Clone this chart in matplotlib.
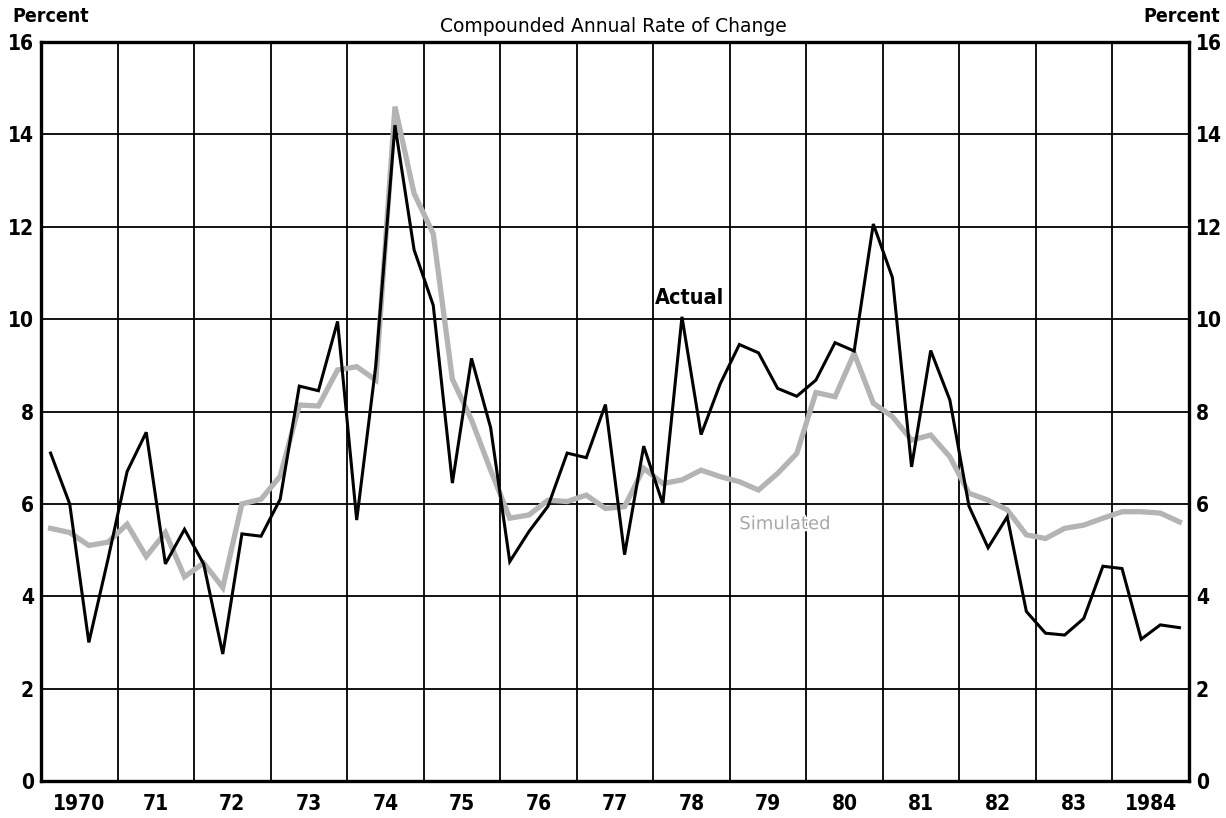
import matplotlib
matplotlib.use("Agg")
import matplotlib.pyplot as plt
import matplotlib.patheffects as pe
import numpy as np

# quarterly rates, 1970Q1 .. 1984Q4
actual = [
    7.1, 6.0, 3.0, 4.8,      # 1970
    6.7, 7.55, 4.7, 5.45,    # 1971
    4.7, 2.75, 5.35, 5.3,    # 1972
    6.1, 8.55, 8.45, 9.95,   # 1973
    5.65, 9.0, 14.2, 11.5,   # 1974
    10.3, 6.45, 9.15, 7.65,  # 1975
    4.75, 5.4, 5.95, 7.1,    # 1976
    7.0, 8.15, 4.9, 7.25,    # 1977
    6.0, 10.05, 7.5, 8.6,    # 1978
    9.45, 9.27, 8.5, 8.33,   # 1979
    8.68, 9.49, 9.31, 12.06, # 1980
    10.9, 6.8, 9.32, 8.25,   # 1981
    5.95, 5.05, 5.72, 3.67,  # 1982
    3.2, 3.16, 3.52, 4.65,   # 1983
    4.6, 3.07, 3.38, 3.32,   # 1984
]
simulated = [
    5.47, 5.38, 5.1, 5.17,
    5.56, 4.86, 5.38, 4.42,
    4.72, 4.19, 6.0, 6.1,
    6.6, 8.14, 8.12, 8.9,
    8.97, 8.68, 14.6, 12.72,
    11.85, 8.7, 7.82, 6.73,
    5.69, 5.76, 6.08, 6.05,
    6.19, 5.9, 5.94, 6.77,
    6.44, 6.52, 6.73, 6.59,
    6.48, 6.3, 6.66, 7.09,
    8.41, 8.32, 9.26, 8.18,
    7.89, 7.38, 7.49, 7.02,
    6.23, 6.08, 5.87, 5.33,
    5.25, 5.47, 5.54, 5.69,
    5.83, 5.83, 5.8, 5.61,
]
year_labels = ["1970", "71", "72", "73", "74", "75", "76", "77",
               "78", "79", "80", "81", "82", "83", "1984"]
y_ticks = [0, 2, 4, 6, 8, 10, 12, 14, 16]

# narrow heavy lettering for the scale numbers and labels
BOLD = dict(fontfamily="DejaVu Sans", fontweight="bold", fontstretch="condensed")

# each quarter sits in the middle of its quarter-year slot
x = 1970 + (np.arange(len(actual)) + 0.5) / 4

fig = plt.figure(figsize=(12.26, 8.18), dpi=100, facecolor="white")
ax = fig.add_axes([41 / 1226, 37 / 818, 1148 / 1226, 739 / 818])

ax.plot(x, simulated, color="#b4b4b4", lw=3.8, solid_joinstyle="miter", zorder=3)
ax.plot(x, actual, color="black", lw=2.2, solid_joinstyle="miter", zorder=4)

ax.set_xlim(1970, 1985)
ax.set_ylim(0, 16)

# year boundaries carry the grid, year centres carry the labels
ax.set_xticks(np.arange(1971, 1985))
ax.set_xticklabels([])
ax.set_xticks(np.arange(1970, 1985) + 0.5, minor=True)
ax.set_xticklabels(year_labels, minor=True, fontsize=15, **BOLD)
ax.tick_params(axis="x", which="both", length=0, pad=9)

ax.set_yticks(y_ticks)
ax.set_yticklabels([str(v) for v in y_ticks], fontsize=15, **BOLD)
ax.tick_params(axis="y", length=0, pad=5, labelright=True)

ax.grid(True, which="major", color="black", lw=1.3, zorder=1)
for s in ax.spines.values():
    s.set_linewidth(2.4)

ax.text(1978.48, 10.46, "Actual", fontsize=15.5, ha="center", va="center",
        zorder=5, **BOLD)
ax.text(1979.72, 5.56, "Simulated", fontsize=13, color="#a9a9a9",
        ha="center", va="center", zorder=5,
        path_effects=[pe.withStroke(linewidth=3, foreground="white")])

fig.text(0.5, 1 - 27 / 818, "Compounded Annual Rate of Change",
         fontsize=13.5, ha="center", va="center")
fig.text(12 / 1226, 1 - 17 / 818, "Percent", fontsize=14,
         ha="left", va="center", **BOLD)
fig.text(1220 / 1226, 1 - 17 / 818, "Percent", fontsize=14,
         ha="right", va="center", **BOLD)

fig.savefig("out.png", dpi=100, facecolor="white")
